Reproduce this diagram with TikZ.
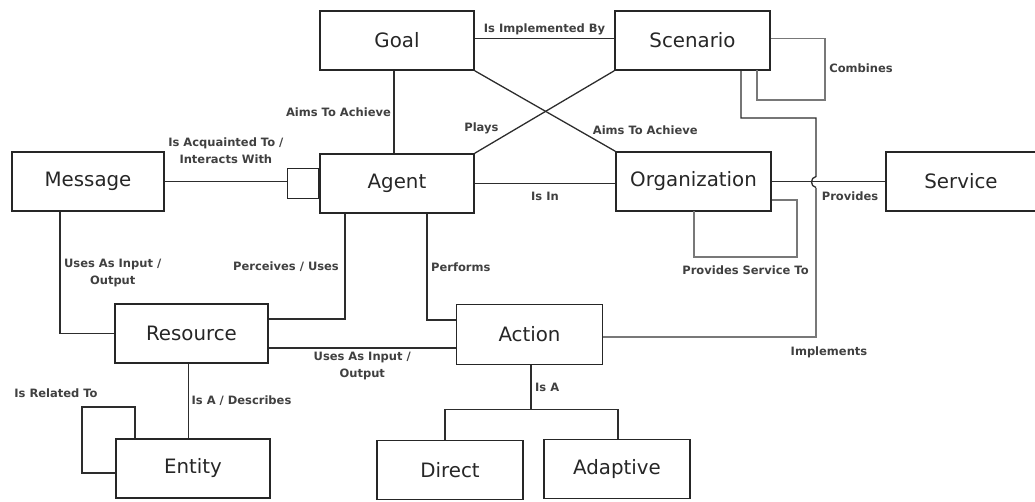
\documentclass[tikz,border=0pt]{standalone}
\usepackage{fontspec}
\setmainfont{DejaVu Sans}
\usetikzlibrary{calc,positioning}
\definecolor{lineclr}{RGB}{45,45,45}
\definecolor{loopclr}{RGB}{120,120,120}

\begin{document}
\begin{tikzpicture}[x=1pt,y=-1pt,
  box/.style={draw=black!85, line width=1.6pt, rectangle, minimum width=154pt, minimum height=59pt, font=\fontsize{19.8}{22}\selectfont, text=black!85},
  lbl/.style={font=\bfseries\fontsize{11.5}{17}\selectfont, text=black!75, align=center, inner sep=1.5pt},
  conn/.style={draw=lineclr, line width=1.3pt},
  loopconn/.style={draw=loopclr, line width=1.2pt}]
  \useasboundingbox (0,0) rectangle (1035,501);

  \node[box] (goal) at (397,40.5) {Goal};
  \node[box, minimum width=155pt] (scenario) at (692.5,40.5) {Scenario};
  \node[box, minimum width=152pt] (message) at (88,181.5) {Message};
  \node[box] (agent) at (397,183.5) {Agent};
  \node[box, minimum width=155pt] (org) at (693.5,181.5) {Organization};
  \node[box, minimum width=150pt] (service) at (961,181.5) {Service};
  \node[box, minimum width=153pt] (resource) at (191.5,333.5) {Resource};
  \node[box, minimum width=146pt, minimum height=60pt] (action) at (529.5,334.5) {Action};
  \node[box] (entity) at (193,468.5) {Entity};
  \node[box, minimum width=146pt] (direct) at (450,470) {Direct};
  \node[box, minimum width=146pt] (adaptive) at (617,469) {Adaptive};
  \node[draw=black!85, line width=1.3pt, minimum width=31pt, minimum height=30pt, anchor=east] (acq) at (agent.west) {};

  % Top row
  \draw[conn] ([yshift=2pt]goal.east) -- ([yshift=2pt]scenario.west) node[lbl, midway, above=1pt] {Is Implemented By};
  \draw[conn] ([xshift=-3pt]goal.south) -- ([xshift=-3pt]agent.north) node[lbl, midway, left=1pt] {Aims To Achieve};
  % Cross
  \draw[conn] (goal.south east) -- (org.north west) node[lbl, pos=0.74, right=12pt] {Aims To Achieve};
  \draw[conn] (agent.north east) -- (scenario.south west) node[lbl, pos=0.3, left=16pt] {Plays};
  % Middle row
  \draw[conn] (message.east) -- (message.east -| acq.west) node[lbl, midway, above=16pt] {Is Acquainted To /\\Interacts With};
  \draw[conn] (agent.east) -- (agent.east -| org.west) node[lbl, midway, below=6pt] {Is In};
  \draw[conn] (org.east) -- (service.west);
  \node[lbl] (provides) at (850,196) {Provides};
  % Loops
  \draw[loopconn] ([yshift=2pt]scenario.east) -- (825,38.5) -- (825,100) -- (757,100) -- (757,70);
  \node[lbl] (combines) at (861,68) {Combines};
  \draw[loopconn] ([yshift=-18.5pt]org.east) -| (797,257) -| (694,211)
    node[lbl, pos=0.25, below=7pt] {Provides Service To};
  % Scenario -- Action
  \draw[conn] ([xshift=48.5pt]scenario.south) |- (816,118) -- (816,176.5)
    .. controls (810,177.5) and (810,186.5) .. (816,187.5);
  \draw[loopconn] (816,187.5) -- (816,337) -- ([yshift=-2.5pt]action.east);
  \node[lbl] (implements) at (829,352) {Implements};
  % Lower part
  \draw[conn] ([xshift=-28pt]message.south) |- (resource.west)
    node[lbl, pos=0.25, right=2pt] {Uses As Input /\\Output};
  \draw[conn] ([xshift=-52pt]agent.south) |- ([yshift=14.5pt]resource.east)
    node[lbl, pos=0.25, left=4pt] {Perceives / Uses};
  \draw[conn] ([xshift=30pt]agent.south) |- ([yshift=14.5pt]action.west)
    node[lbl, pos=0.25, right=2pt] {Performs};
  \draw[conn] ([yshift=-14.5pt]resource.east) -- ([yshift=-14.5pt]resource.east -| action.west)
    node[lbl, midway, below=2pt] {Uses As Input /\\Output};
  \draw[conn] ([xshift=-3pt]resource.south) -- ([xshift=-3pt]resource.south |- entity.north)
    node[lbl, midway, right=1pt] {Is A / Describes};
  \draw[conn] ([xshift=-58pt]entity.north) |- (82,407) |- ([yshift=-4.5pt]entity.west);
  \node[lbl] (relto) at (56,393) {Is Related To};
  % Is A
  \draw[conn] ([xshift=1.5pt]action.south) -- ++(0,44.5) coordinate (isa)
    node[lbl, midway, right=2pt] {Is A};
  \draw[conn] ([xshift=-5pt]direct.north) |- (isa) -| ([xshift=1pt]adaptive.north);
\end{tikzpicture}
\end{document}
